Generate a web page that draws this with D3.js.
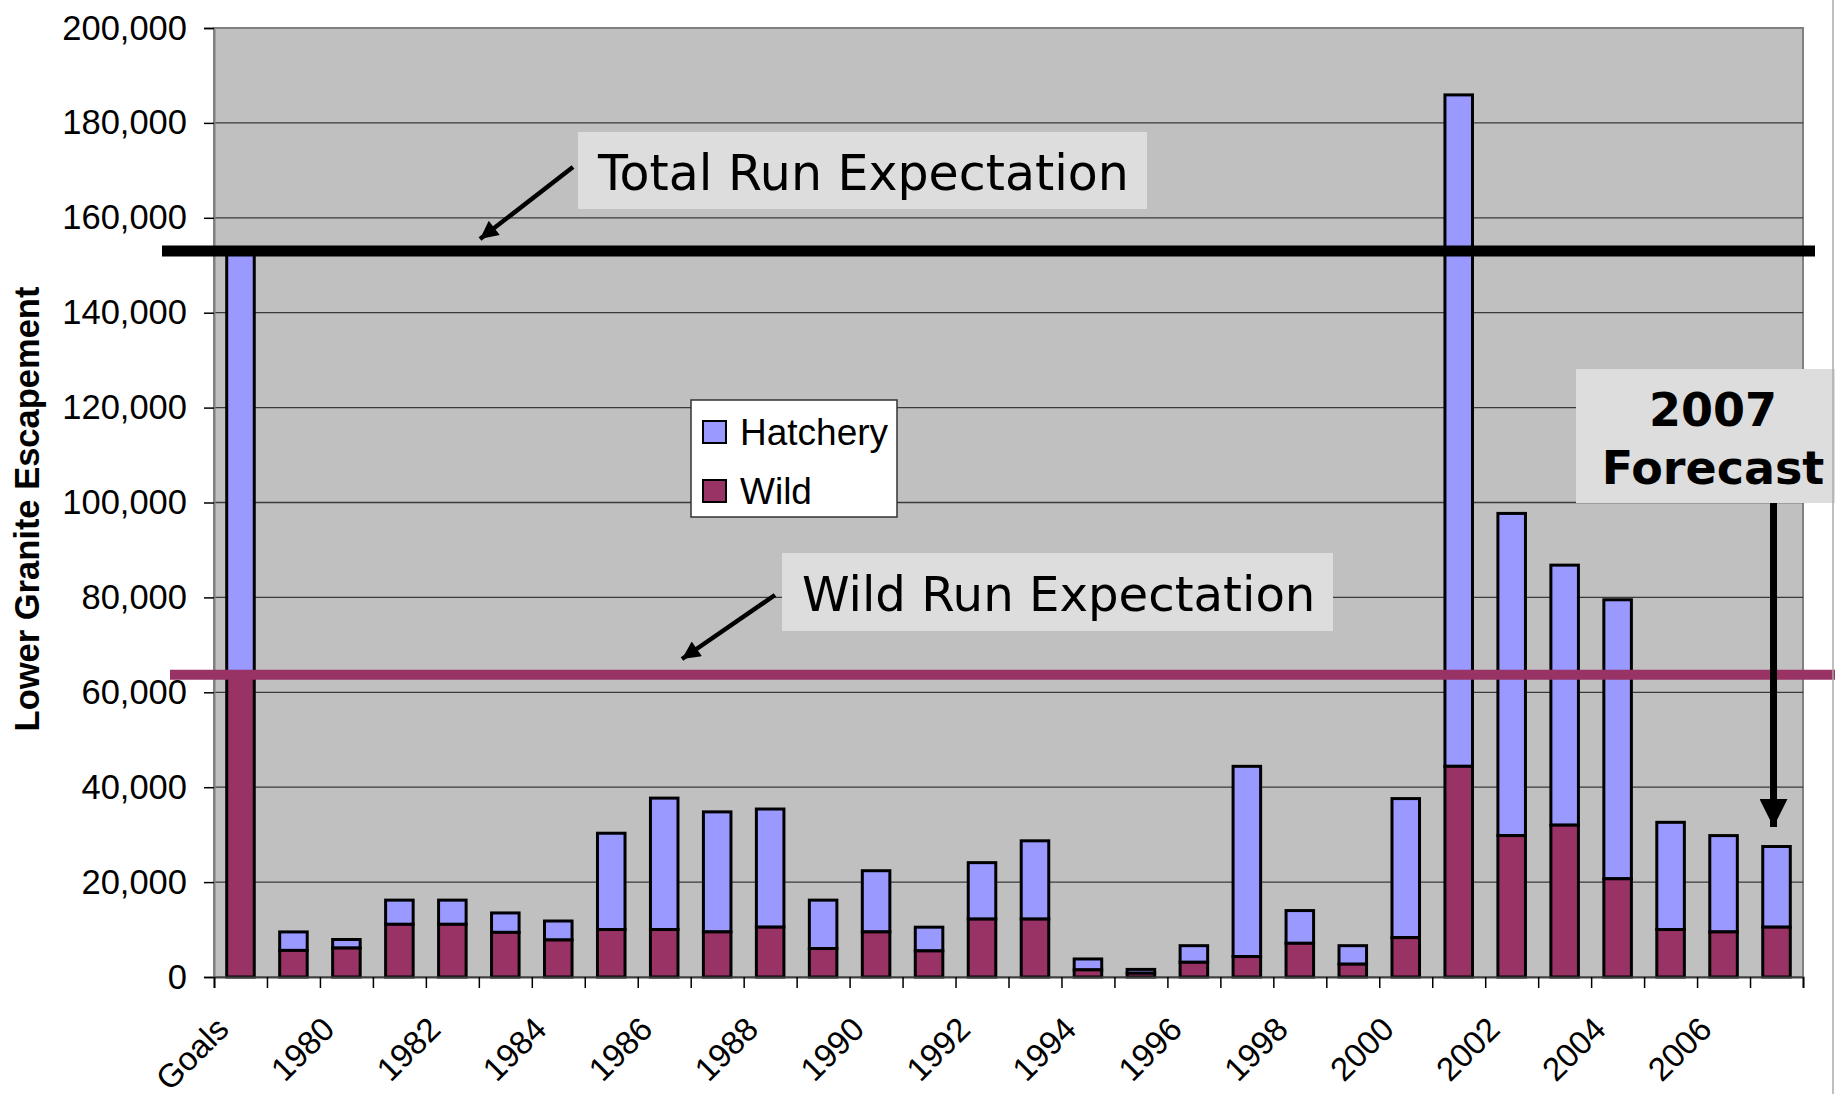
<!DOCTYPE html>
<html lang="en">
  <head>
    <meta charset="UTF-8">
    <title>Lower Granite Escapement</title>
    <style>
      body { margin: 0; background: #fff; }
    </style>
  </head>
  <body>
    <div id="chart"></div>
    <script src="https://d3js.org/d3.v7.min.js"></script>
    <script>
      // categories along the x axis (Goals, then run years)
      var categories = ["Goals", "1979", "1980", "1981", "1982", "1983", "1984", "1985", "1986", "1987",
                        "1988", "1989", "1990", "1991", "1992", "1993", "1994", "1995", "1996", "1997",
                        "1998", "1999", "2000", "2001", "2002", "2003", "2004", "2005", "2006", "2007"];
      // wild fish, bottom of each stack
      var wild = [63700, 5600, 6100, 11100, 11100, 9400, 7800, 10000, 10000, 9500,
                  10500, 6000, 9500, 5500, 12200, 12200, 1500, 800, 3100, 4300,
                  7100, 2700, 8300, 44400, 29800, 32000, 20700, 10000, 9500, 10500];
      // total escapement (hatchery + wild)
      var total = [153000, 9500, 7900, 16200, 16200, 13500, 11800, 30300, 37700, 34800,
                   35400, 16200, 22400, 10500, 24100, 28700, 3800, 1600, 6600, 44400,
                   14000, 6600, 37600, 185900, 97700, 86800, 79500, 32600, 29800, 27500];
      var xLabels = ["Goals", "1980", "1982", "1984", "1986", "1988", "1990", "1992", "1994", "1996",
                     "1998", "2000", "2002", "2004", "2006"];
      var yTicks = [0, 20000, 40000, 60000, 80000, 100000, 120000, 140000, 160000, 180000, 200000];
      var totalExpectation = 153000;
      var wildExpectation = 63700;

      var W = 1835, H = 1094;
      var pL = 214, pR = 1803, pT = 28, pB = 977;

      var svg = d3.select("#chart").append("svg")
          .attr("width", W)
          .attr("height", H);

      var x = d3.scaleBand()
          .domain(categories)
          .range([pL, pR])
          .paddingInner(0.48)
          .paddingOuter(0.24);

      // boundary ticks between categories
      var xb = d3.scaleLinear().domain([0, categories.length]).range([pL, pR]);

      var y = d3.scaleLinear()
          .domain([0, 200000])
          .range([pB, pT]);

      // plot background
      svg.append("rect")
          .attr("x", pL).attr("y", pT)
          .attr("width", pR - pL).attr("height", pB - pT)
          .attr("fill", "#c0c0c0")
          .attr("stroke", "#808080")
          .attr("stroke-width", 2);

      // gridlines
      svg.append("g")
          .selectAll("line")
          .data(yTicks.filter(function(d){ return d > 0 && d < 200000; }))
          .enter().append("line")
            .attr("x1", pL).attr("x2", pR)
            .attr("y1", function(d){ return y(d); })
            .attr("y2", function(d){ return y(d); })
            .attr("stroke", "#3a3a3a")
            .attr("stroke-width", 1.3);

      // y axis
      var yAxis = svg.append("g")
          .attr("transform", "translate(" + pL + ",0)")
          .call(d3.axisLeft(y).tickValues(yTicks).tickSize(10).tickPadding(17).tickFormat(d3.format(",")));
      yAxis.select(".domain").attr("stroke", "#808080").attr("stroke-width", 2);
      yAxis.selectAll(".tick line").attr("stroke", "#000").attr("stroke-width", 1.5);
      yAxis.selectAll("text")
          .attr("font-family", "Liberation Sans, Arial, sans-serif")
          .attr("font-size", 34.5)
          .attr("fill", "#000");

      // stacked bars
      var bars = svg.append("g");
      bars.selectAll("rect.hatch")
          .data(categories)
          .enter().append("rect")
            .attr("class", "hatch")
            .attr("x", function(d){ return x(d); })
            .attr("width", x.bandwidth())
            .attr("y", function(d, i){ return y(total[i]); })
            .attr("height", function(d, i){ return y(wild[i]) - y(total[i]); })
            .attr("fill", "#9999ff")
            .attr("stroke", "#000")
            .attr("stroke-width", 3);
      bars.selectAll("rect.wild")
          .data(categories)
          .enter().append("rect")
            .attr("class", "wild")
            .attr("x", function(d){ return x(d); })
            .attr("width", x.bandwidth())
            .attr("y", function(d, i){ return y(wild[i]); })
            .attr("height", function(d, i){ return y(0) - y(wild[i]); })
            .attr("fill", "#993366")
            .attr("stroke", "#000")
            .attr("stroke-width", 3);

      // x axis: boundary ticks
      var xTickAxis = svg.append("g")
          .attr("transform", "translate(0," + pB + ")")
          .call(d3.axisBottom(xb).tickValues(d3.range(categories.length + 1)).tickSize(11).tickFormat(""));
      xTickAxis.select(".domain").attr("stroke", "#404040").attr("stroke-width", 2);
      xTickAxis.selectAll(".tick line").attr("stroke", "#000").attr("stroke-width", 1.5);

      // x axis labels, every other category, rotated
      var xLabelAxis = svg.append("g")
          .attr("transform", "translate(0," + pB + ")")
          .call(d3.axisBottom(x).tickValues(xLabels).tickSize(0));
      xLabelAxis.select(".domain").remove();
      xLabelAxis.selectAll("text")
          .attr("font-family", "Liberation Sans, Arial, sans-serif")
          .attr("font-size", 33)
          .attr("fill", "#000")
          .attr("text-anchor", "end")
          .attr("dy", "0.35em")
          .attr("transform", "translate(-18,46) rotate(-45)")
          .attr("y", 0);

      // y axis title
      svg.append("text")
          .attr("transform", "translate(27,509) rotate(-90)")
          .attr("text-anchor", "middle")
          .attr("dominant-baseline", "central")
          .attr("font-family", "Liberation Sans, Arial, sans-serif")
          .attr("font-weight", "bold")
          .attr("font-size", 34.5)
          .text("Lower Granite Escapement");

      // expectation lines
      svg.append("line")
          .attr("x1", 162).attr("x2", 1815)
          .attr("y1", y(totalExpectation)).attr("y2", y(totalExpectation))
          .attr("stroke", "#000").attr("stroke-width", 11);
      svg.append("line")
          .attr("x1", 170).attr("x2", W)
          .attr("y1", y(wildExpectation)).attr("y2", y(wildExpectation))
          .attr("stroke", "#993366").attr("stroke-width", 10);

      // arrow marker
      svg.append("defs").append("marker")
          .attr("id", "head")
          .attr("viewBox", "0 0 10 10")
          .attr("refX", 10).attr("refY", 5)
          .attr("markerWidth", 5).attr("markerHeight", 4)
          .attr("markerUnits", "strokeWidth")
          .attr("orient", "auto")
        .append("path")
          .attr("d", "M0,0 L10,5 L0,10 z")
          .attr("fill", "#000");

      // callouts
      function callout(bx, by, bw, bh, label, fs, tx, ty, ax1, ay1, ax2, ay2) {
        svg.append("rect")
            .attr("x", bx).attr("y", by).attr("width", bw).attr("height", bh)
            .attr("fill", "#dddddd");
        svg.append("text")
            .attr("x", tx).attr("y", ty)
            .attr("font-family", "DejaVu Sans, Verdana, sans-serif")
            .attr("font-size", fs)
            .attr("fill", "#000")
            .text(label);
        svg.append("line")
            .attr("x1", ax1).attr("y1", ay1).attr("x2", ax2).attr("y2", ay2)
            .attr("stroke", "#000").attr("stroke-width", 4.5)
            .attr("marker-end", "url(#head)");
      }
      callout(578, 132, 569, 77, "Total Run Expectation", 49, 598, 190, 573, 167, 480, 239);
      callout(782, 553, 551, 78, "Wild Run Expectation", 48.2, 802, 611, 775, 595, 682, 659);

      // forecast box
      svg.append("rect")
          .attr("x", 1576).attr("y", 369).attr("width", W - 1576).attr("height", 134)
          .attr("fill", "#dddddd");
      svg.append("text")
          .attr("x", 1713).attr("y", 426)
          .attr("text-anchor", "middle")
          .attr("font-family", "DejaVu Sans, Verdana, sans-serif")
          .attr("font-weight", "bold")
          .attr("font-size", 46)
          .text("2007");
      svg.append("text")
          .attr("x", 1713).attr("y", 484)
          .attr("text-anchor", "middle")
          .attr("font-family", "DejaVu Sans, Verdana, sans-serif")
          .attr("font-weight", "bold")
          .attr("font-size", 46)
          .text("Forecast");
      var fx = x("2007") + x.bandwidth() / 2 - 3;
      svg.append("line")
          .attr("x1", fx).attr("y1", 503).attr("x2", fx).attr("y2", 827)
          .attr("stroke", "#000").attr("stroke-width", 7)
          .attr("marker-end", "url(#head)");

      // legend
      var legend = svg.append("g").attr("transform", "translate(691,400)");
      legend.append("rect")
          .attr("width", 206).attr("height", 117)
          .attr("fill", "#fff").attr("stroke", "#333").attr("stroke-width", 1.5);
      var items = [{name: "Hatchery", color: "#9999ff"}, {name: "Wild", color: "#993366"}];
      var li = legend.selectAll("g.item").data(items).enter().append("g")
          .attr("transform", function(d, i){ return "translate(0," + (i * 59) + ")"; });
      li.append("rect")
          .attr("x", 12).attr("y", 21).attr("width", 23).attr("height", 22)
          .attr("fill", function(d){ return d.color; })
          .attr("stroke", "#000").attr("stroke-width", 2);
      li.append("text")
          .attr("x", 49).attr("y", 45)
          .attr("font-family", "Liberation Sans, Arial, sans-serif")
          .attr("font-size", 37)
          .text(function(d){ return d.name; });

      // page edge
      svg.append("line")
          .attr("x1", 1833).attr("x2", 1833).attr("y1", 0).attr("y2", H)
          .attr("stroke", "#aaa").attr("stroke-width", 1.5);
    </script>
  </body>
</html>
